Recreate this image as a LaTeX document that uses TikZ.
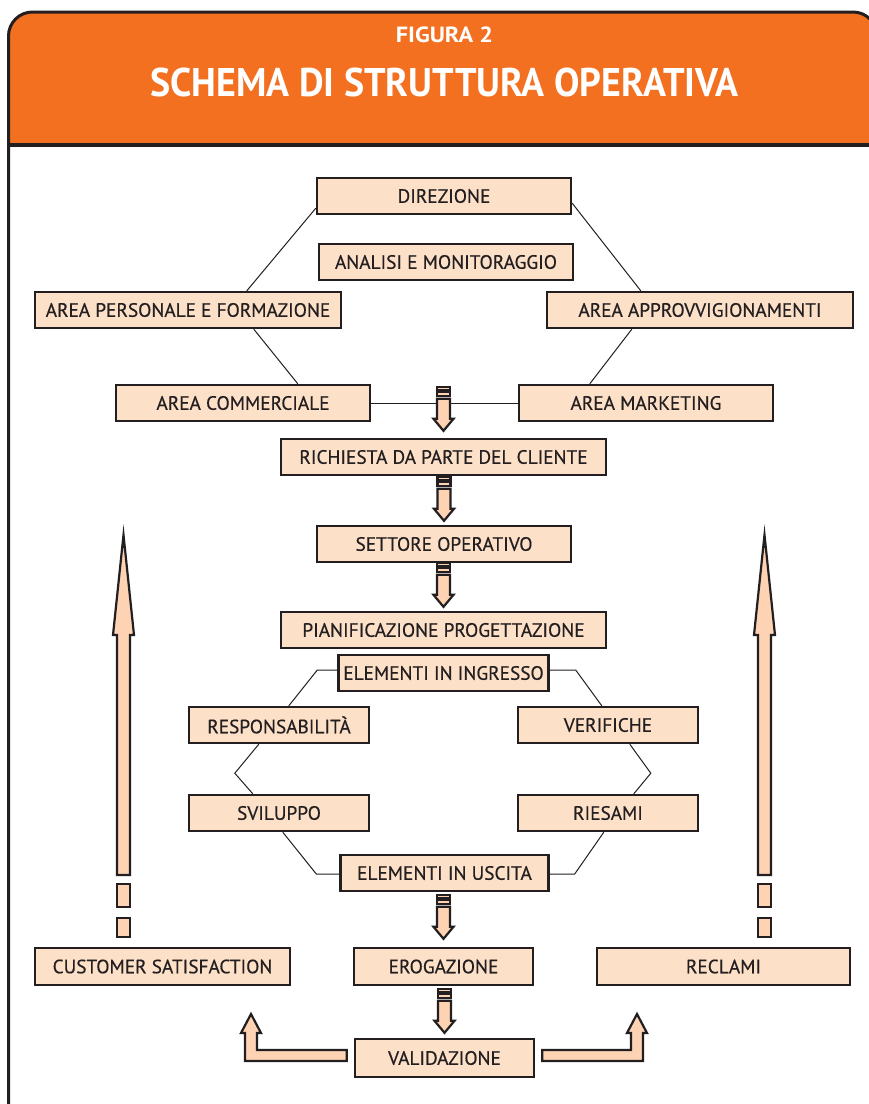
\documentclass[tikz,border=0pt]{standalone}
\usepackage{fontspec}
\setmainfont{PT Sans}
\newfontfamily\boxfont{PT Sans}[FakeBold=0.5]
\newfontfamily\titlefont{PT Sans}[FakeStretch=0.95]
\newfontfamily\figfont{PT Sans}[FakeStretch=1.1]
\usetikzlibrary{calc}

\definecolor{hdrorange}{HTML}{F37021}
\definecolor{boxfill}{HTML}{FDE0C8}
\definecolor{arrowfill}{HTML}{FDD3B4}
\definecolor{ink}{HTML}{231F20}

\tikzset{
  box/.style={draw=ink, line width=2.4pt, fill=boxfill, inner sep=0pt, text=ink,
              font=\boxfont\fontsize{19.3}{21}\selectfont, minimum height=36pt},
  link/.style={draw=ink, line width=1pt},
  blockarrow/.style={draw=ink, line width=2.2pt, fill=arrowfill, line join=miter},
  frameline/.style={draw=ink, line width=3pt},
  % short downward block arrow, tip at the origin
  pics/downblock/.style={code={
    \path[blockarrow] (-6.5,-32) -- (-6.5,-12) -- (-10,-12) -- (0,0) -- (10,-12)
                      -- (6.5,-12) -- (6.5,-32) -- cycle;
    \path[blockarrow] (-6.5,-44) rectangle (6.5,-40.5);
    \path[blockarrow] (-6.5,-39) rectangle (6.5,-35);
  }},
  % long upward arrow with a dashed tail, tip at the origin
  pics/upshaft/.style={code={
    \path[blockarrow] (-6.5,340) -- (-6.5,100) -- (-10.5,100) -- (0,0) -- (10.5,100)
                      -- (6.5,100) -- (6.5,340) -- cycle;
    \path[blockarrow] (-6.5,349) rectangle (6.5,372);
    \path[blockarrow] (-6.5,383) rectangle (6.5,402);
  }},
}

\begin{document}
\begin{tikzpicture}[x=1pt, y=-1pt]
\useasboundingbox (0,0) rectangle (869,1104);
\clip (0,0) rectangle (869,1104);

% header band and frame
\fill[hdrorange, rounded corners=24pt] (8.5,1130) -- (8.5,12) -- (877,12) -- (877,1130) -- cycle;
\fill[white] (8.5,145) rectangle (877,1140);
\path[frameline, rounded corners=24pt] (8.5,1130) -- (8.5,12) -- (877,12) -- (877,1130);
\path[draw=ink, line width=3.5pt] (8.5,145) -- (877,145);

\node[text=white, font=\figfont\bfseries\fontsize{22}{24}\selectfont] (fig) at (444.5,35) {FIGURA 2};
\node[text=white, font=\titlefont\bfseries\fontsize{40}{44}\selectfont] (title) at (444.5,82) {SCHEMA DI STRUTTURA OPERATIVA};

% top group
\node[box, minimum width=254pt] (dir)  at (444,196) {DIREZIONE};
\node[box, minimum width=254pt] (anm)  at (446,262) {ANALISI E MONITORAGGIO};
\node[box, minimum width=306pt] (ape)  at (188,310) {AREA PERSONALE E FORMAZIONE};
\node[box, minimum width=306pt] (apv)  at (700,310) {AREA APPROVVIGIONAMENTI};
\node[box, minimum width=254pt] (acom) at (243,403) {AREA COMMERCIALE};
\node[box, minimum width=254pt] (amkt) at (646,403) {AREA MARKETING};

\draw[link] ($(dir.south west)+(0,-7)$)  -- ($(ape.north west)+(213,0)$);
\draw[link] ($(dir.south east)+(0,-12)$) -- ($(apv.north west)+(95,0)$);
\draw[link] ($(ape.south west)+(220,0)$) -- ($(acom.north west)+(183,0)$);
\draw[link] ($(apv.south west)+(86,0)$)  -- ($(amkt.north west)+(72,0)$);
\draw[link] (acom.east) -- (amkt.west);

% main chain
\node[box, minimum width=325pt] (ric) at (443.5,457) {RICHIESTA DA PARTE DEL CLIENTE};
\node[box, minimum width=254pt] (set) at (444,544) {SETTORE OPERATIVO};
\node[box, minimum width=325pt] (pia) at (443.5,630) {PIANIFICAZIONE PROGETTAZIONE};

\pic at ($(ric.north)+(0,-7)$) {downblock};
\pic at ($(set.north)+(0,-4)$) {downblock};
\pic at ($(pia.north)+(0,-4)$) {downblock};

% design loop
\node[box, minimum width=210pt] (ein) at (443.5,673) {ELEMENTI IN INGRESSO};
\node[box, minimum width=180pt] (resp) at (279,725) {RESPONSABILITÀ};
\node[box, minimum width=180pt] (ver)  at (608,725) {VERIFICHE};
\node[box, minimum width=180pt] (svil) at (279,813) {SVILUPPO};
\node[box, minimum width=180pt] (ries) at (608,813) {RIESAMI};
\node[box, minimum width=208pt] (eus) at (444.5,873) {ELEMENTI IN USCITA};

\draw[link] ($(ein.west)+(0,-3)$) -- ++(-20,0) -- ($(resp.north west)+(101,0)$);
\draw[link] ($(ein.east)+(0,-3)$) -- ++(26,0) -- ($(ver.north west)+(85,0)$);
\draw[link] ($(resp.south west)+(71,0)$) -- ++(-24,29) -- ($(svil.north west)+(65,0)$);
\draw[link] ($(ver.south west)+(113,0)$) -- ++(21,29) -- ($(ries.north west)+(117,0)$);
\draw[link] ($(svil.south west)+(95,0)$) -- ($(eus.west)+(-23,1)$) -- ($(eus.west)+(0,1)$);
\draw[link] ($(ries.south west)+(87,0)$) -- ($(eus.east)+(25,1)$) -- ($(eus.east)+(0,1)$);

% outcome row
\node[box, minimum width=255pt, minimum height=37pt] (cs)  at (162.5,966.5) {CUSTOMER SATISFACTION};
\node[box, minimum width=179pt, minimum height=37pt] (ero) at (443.5,966.5) {EROGAZIONE};
\node[box, minimum width=253pt, minimum height=37pt] (rec) at (723.5,966.5) {RECLAMI};
\node[box, minimum width=179pt, minimum height=38pt] (val) at (444.5,1058) {VALIDAZIONE};

\pic at ($(ero.north)+(0,-8)$) {downblock};
\pic at ($(val.north)+(0,-5)$) {downblock};

% feedback arrows
\coordinate (csup)  at (123.5,535);
\coordinate (recup) at (764.5,535);
\pic at (csup)  {upshaft};
\pic at (recup) {upshaft};

\path[blockarrow] ($(val.west)+(-7,-8)$) -- (257,1050) -- (257,1033) -- (261,1033) -- (251,1014)
  -- (241,1033) -- (245,1033) -- (245,1061) -- ($(val.west)+(-7,3)$) -- cycle;
\path[blockarrow] ($(val.east)+(7,-8)$) -- (631,1050) -- (631,1033) -- (627,1033) -- (637,1014)
  -- (647,1033) -- (643,1033) -- (643,1061) -- ($(val.east)+(7,3)$) -- cycle;
\end{tikzpicture}
\end{document}
